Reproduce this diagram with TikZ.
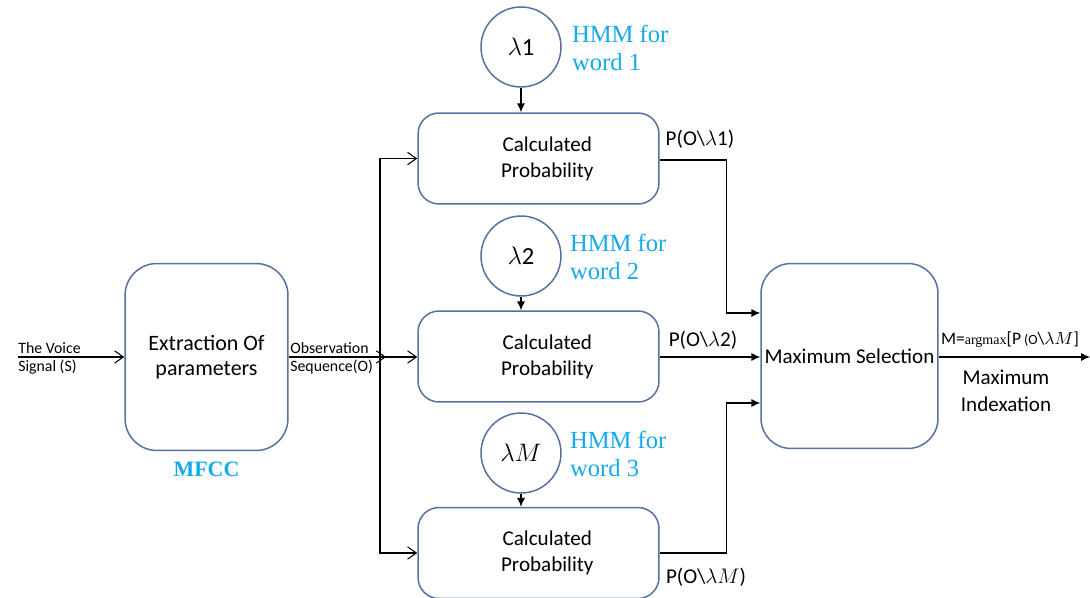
\documentclass[tikz,border=0pt]{standalone}
\usepackage{fontspec}
\setmainfont{Carlito}
\newfontfamily\hmmfont{Liberation Serif}
\usetikzlibrary{arrows.meta,calc}
\definecolor{boxline}{RGB}{88,112,160}
\definecolor{hmmblue}{RGB}{20,170,235}

\begin{document}
\begin{tikzpicture}[x=0.02cm,y=-0.02cm,
  box/.style={draw=boxline, line width=0.85pt, align=center, inner sep=0pt,
              font=\fontsize{12}{14.8}\selectfont},
  calcbox/.style={box, minimum width=4.82cm, minimum height=1.82cm, rounded corners=0.42cm},
  model/.style={circle, draw=boxline, line width=0.85pt, minimum size=1.6cm, inner sep=0pt,
                font=\fontsize{14}{16}\selectfont},
  hmmlabel/.style={anchor=west, align=left, text=hmmblue, inner sep=0pt,
                   font=\hmmfont\fontsize{14}{16}\selectfont},
  small/.style={anchor=west, align=left, inner sep=0pt, font=\fontsize{9}{10.2}\selectfont},
  plabel/.style={inner sep=0pt, font=\fontsize{12}{14}\selectfont},
  conn/.style={line width=0.6pt},
  openarrow/.style={conn, -{Straight Barb[length=5pt,width=7pt]}},
  filledarrow/.style={conn, -{Latex[length=5pt,width=4.5pt]}}]
\useasboundingbox (0,0) rectangle (1090,598);

% processing blocks
\node[box, minimum width=3.26cm, minimum height=3.74cm, rounded corners=0.64cm,
      font=\fontsize{12.5}{14.5}\selectfont] (ext) at (206.5,357)
      {\raisebox{0pt}[0pt][0pt]{}Extraction Of\\parameters};
\node[calcbox] (calc1) at (538.5,158.5) {\hspace*{10pt}Calculated\\\hspace*{10pt}Probability};
\node[calcbox] (calc2) at (538.5,356.5) {\hspace*{10pt}Calculated\\\hspace*{10pt}Probability};
\node[calcbox] (calc3) at (538.5,553) {\hspace*{10pt}Calculated\\\hspace*{10pt}Probability};
\node[box, minimum width=3.54cm, minimum height=3.7cm, rounded corners=0.6cm,
      font=\fontsize{12}{14.5}\selectfont] (maxsel) at (849.5,356) {Maximum Selection};

% word models
\node[model] (m1) at (521,47) {$\lambda$1};
\node[model] (m2) at (521,256) {$\lambda$2};
\node[model] (m3) at (521,453) {$\lambda M$};
\node[hmmlabel] (h1) at ($(m1.east)+(10,1)$) {HMM for\\word 1};
\node[hmmlabel] (h2) at ($(m2.east)+(8,1)$) {HMM for\\word 2};
\node[hmmlabel] (h3) at ($(m3.east)+(8,1)$) {HMM for\\word 3};

\node[text=hmmblue, inner sep=0pt, font=\hmmfont\bfseries\fontsize{12.5}{14}\selectfont]
  (mfcc) at ($(ext.south)+(0,18)$) {MFCC};

% input and feature split
\coordinate (in) at (18,357);
\coordinate (split) at (380,357);
\coordinate (out) at (1090,357);
\node[small] (voice) at (18,358) {The Voice\\Signal (S)};
\node[small] (obs) at (290,358) {Observation\\Sequence(O)};

\draw[openarrow] (in) -- (ext.west |- in);
\draw[openarrow] (ext.east |- split) -- ($(split)+(6,0)$);
\draw[openarrow] (split) -- (calc2.west |- split);
\draw[openarrow] (split) |- (calc1.west);
\draw[openarrow] (split) |- (calc3.west);

% model to probability
\draw[filledarrow] (m1) -- (calc1.north -| m1);
\draw[filledarrow] (m2) -- (calc2.north -| m2);
\draw[filledarrow] (m3) -- (calc3.north -| m3);

% probabilities to maximum selection
\draw[filledarrow] ($(calc1.east)+(0,1.5)$) -- ++(67,0) |- ($(maxsel.west)+(0,-43)$);
\draw[filledarrow] (calc2.east |- split) -- (maxsel.west |- split);
\draw[filledarrow] (calc3.east) -- ++(67,0) |- ($(maxsel.west)+(0,47)$);

\node[plabel] (p1) at (700,139) {P(O\textbackslash$\lambda$1)};
\node[plabel] (p2) at (703,340) {P(O\textbackslash$\lambda$2)};
\node[plabel] (p3) at (706,577) {P(O\textbackslash$\lambda M$)};

% output
\draw[filledarrow] (maxsel.east |- out) -- (out);
\node[inner sep=0pt, font=\fontsize{10}{12}\selectfont] (res) at (1010,340)
  {M={\hmmfont\fontsize{8}{8}\selectfont argmax}[P\,{\fontsize{8}{8}\selectfont(O}\textbackslash$\lambda M$]};
\node[inner sep=0pt, align=center, font=\fontsize{12}{15.4}\selectfont] (idx) at (1006,391)
  {Maximum\\Indexation};
\end{tikzpicture}
\end{document}
